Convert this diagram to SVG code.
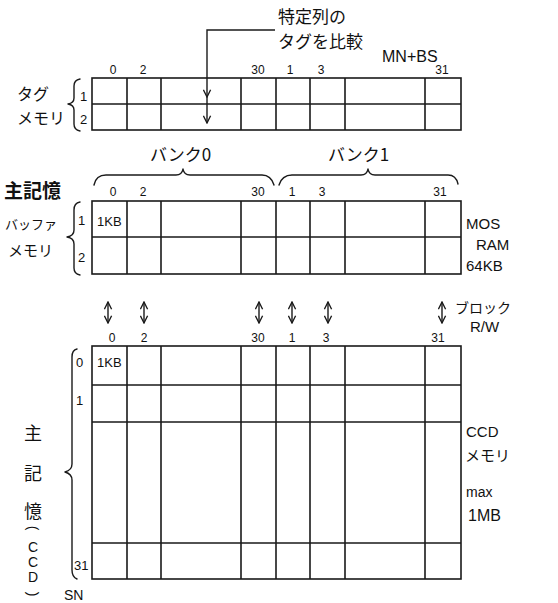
<svg xmlns="http://www.w3.org/2000/svg" width="558" height="603" viewBox="0 0 558 603">
<style>
.g{fill:none;stroke:#1a1a1a;stroke-width:1.6}
.b{fill:none;stroke:#1a1a1a;stroke-width:1.4;stroke-linecap:round;stroke-linejoin:round}
.t{font-family:"Liberation Sans","Noto Sans CJK JP",sans-serif;fill:#111}
.j{font-family:"Noto Sans CJK JP","Liberation Sans",sans-serif;fill:#111}
.n{font-size:12px;text-anchor:middle}
.c{fill:none;stroke:#1a1a1a;stroke-width:1.4}
</style>
<defs>
<marker id="ah" viewBox="0 0 10 10" refX="9" refY="5" markerWidth="9" markerHeight="9" markerUnits="userSpaceOnUse" orient="auto-start-reverse">
<path d="M1,1 L9,5 L1,9" fill="none" stroke="#1a1a1a" stroke-width="1.5"/>
</marker>
</defs>
<rect width="558" height="603" fill="#fff"/>

<g id="tag-memory">
<rect class="g" x="92" y="78" width="369" height="52"/>
<path class="g" d="M92,104H461M127,78V130M161,78V130M241,78V130M310,78V130M345,78V130M425,78V130"/>
<path class="g" stroke-width="2.4" d="M276,78V130"/>
<g class="t n">
<text x="113" y="74">0</text><text x="143" y="74">2</text><text x="258" y="74">30</text>
<text x="290" y="74">1</text><text x="321" y="74">3</text><text x="442" y="74">31</text>
</g>
<path class="b" d="M80,79 Q74,80 74,86 V98 Q74,103 68,104 Q74,105 74,110 V124 Q74,130 80,131"/>
<text class="t" x="80" y="101" font-size="13">1</text>
<text class="t" x="80" y="124" font-size="13">2</text>
<text class="j" x="17" y="100" font-size="16">タグ</text>
<text class="j" x="17" y="124" font-size="16">メモリ</text>
</g>

<g id="compare-note">
<text class="j" x="278" y="23" font-size="17">特定列の</text>
<text class="j" x="278" y="48" font-size="17">タグを比較</text>
<text class="t" x="382" y="62" font-size="16">MN+BS</text>
</g>

<g id="buffer-memory">
<rect class="g" x="92" y="201" width="369" height="73"/>
<path class="g" d="M92,237H461M127,201V274M161,201V274M241,201V274M310,201V274M345,201V274M425,201V274"/>
<path class="g" stroke-width="2.4" d="M276,201V274"/>
<g class="t n">
<text x="113" y="196">0</text><text x="143" y="196">2</text><text x="258" y="196">30</text>
<text x="292" y="196">1</text><text x="322" y="196">3</text><text x="440" y="196">31</text>
</g>
<text class="t" x="97" y="226" font-size="13">1KB</text>
<path class="b" d="M94,185 Q96,175 106,175 H176 Q182,175 183,169 Q184,175 190,175 H262 Q271,175 274,185"/>
<path class="b" d="M279,185 Q282,175 292,175 H361 Q367,175 368,169 Q369,175 375,175 H448 Q456,175 458,184"/>
<text class="j" x="150" y="161" font-size="17">バンク0</text>
<text class="j" x="328" y="161" font-size="17">バンク1</text>
<path class="b" d="M80,202 Q74,203 74,210 V230 Q74,236 67,237 Q74,238 74,244 V268 Q74,274 80,275"/>
<text class="t" x="78" y="225" font-size="13">1</text>
<text class="t" x="78" y="262" font-size="13">2</text>
<text class="j" x="4" y="198" font-size="19" font-weight="bold">主記憶</text>
<text class="j" x="5" y="229" font-size="13">バッファ</text>
<text class="j" x="8" y="256" font-size="15">メモリ</text>
<text class="t" x="466" y="229" font-size="15">MOS</text>
<text class="t" x="476" y="250" font-size="15">RAM</text>
<text class="t" x="466" y="271" font-size="15">64KB</text>
</g>

<g id="ccd-memory">
<rect class="g" x="92" y="346" width="369" height="233"/>
<path class="g" d="M92,385H461M92,422H461M92,543H461M127,346V579M161,346V579M241,346V579M310,346V579M345,346V579M425,346V579"/>
<path class="g" stroke-width="2.4" d="M276,346V579"/>
<g class="t n">
<text x="112" y="342">0</text><text x="144" y="342">2</text><text x="258" y="342">30</text>
<text x="292" y="342">1</text><text x="326" y="342">3</text><text x="438" y="342">31</text>
</g>
<text class="t" x="97" y="367" font-size="13">1KB</text>
<path class="b" d="M77,349 Q72,350 72,357 V464 Q72,470 65,472 Q72,474 72,480 V570 Q72,577 77,579"/>
<text class="t" x="76" y="367" font-size="13">0</text>
<text class="t" x="76" y="405" font-size="13">1</text>
<text class="t" x="74" y="570" font-size="13">31</text>
<text class="t" x="64" y="600" font-size="14">SN</text>
<g class="j" font-size="18" text-anchor="middle">
<text x="33" y="440">主</text>
<text x="33" y="480">記</text>
<text x="33" y="518">憶</text>
</g>
<g class="t" font-size="14" text-anchor="middle" dominant-baseline="central">
<text x="33" y="528" transform="rotate(90 33 528)">(</text>
<text x="33" y="547">C</text>
<text x="33" y="562">C</text>
<text x="33" y="577">D</text>
<text x="33" y="594" transform="rotate(90 33 594)">)</text>
</g>
<text class="t" x="466" y="437" font-size="15">CCD</text>
<text class="j" x="465" y="461" font-size="15">メモリ</text>
<text class="t" x="466" y="497" font-size="14">max</text>
<text class="t" x="468" y="521" font-size="16">1MB</text>
<text class="j" x="455" y="313" font-size="14">ブロック</text>
<text class="t" x="470" y="332" font-size="15">R/W</text>
</g>

<g id="connectors">
<path class="c" d="M275,30H207V97" marker-end="url(#ah)"/>
<path class="c" d="M207,97V123" marker-end="url(#ah)"/>
<path class="c" d="M108,302V323" marker-start="url(#ah)" marker-end="url(#ah)"/>
<path class="c" d="M144,302V323" marker-start="url(#ah)" marker-end="url(#ah)"/>
<path class="c" d="M259,302V323" marker-start="url(#ah)" marker-end="url(#ah)"/>
<path class="c" d="M292,302V323" marker-start="url(#ah)" marker-end="url(#ah)"/>
<path class="c" d="M328,302V323" marker-start="url(#ah)" marker-end="url(#ah)"/>
<path class="c" d="M442,302V323" marker-start="url(#ah)" marker-end="url(#ah)"/>
</g>
</svg>
